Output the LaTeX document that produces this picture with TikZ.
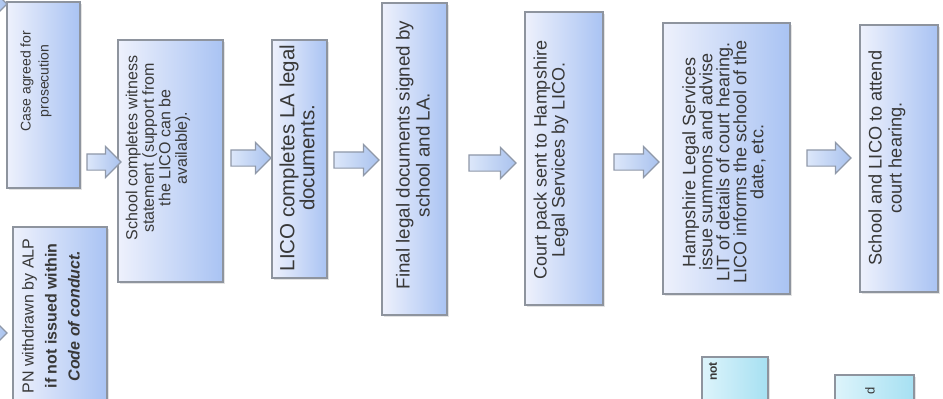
\documentclass[tikz,border=0pt]{standalone}
\usepackage{fontspec}
\setmainfont{Liberation Sans}
\usetikzlibrary{shapes.arrows,shadows}

\definecolor{boxL}{HTML}{EEF1FC}
\definecolor{boxR}{HTML}{A9C3F3}
\definecolor{cyanL}{HTML}{DDF4FB}
\definecolor{cyanR}{HTML}{A6E0F2}
\definecolor{edgegrey}{HTML}{8E949E}
\definecolor{arrL}{HTML}{DCE7FA}
\definecolor{arrR}{HTML}{A9C2EE}
\definecolor{arrEdge}{HTML}{8F98A8}
\definecolor{inkgrey}{HTML}{383838}

\tikzset{
  procbox/.style={rectangle, inner sep=0pt, draw=edgegrey, line width=1.3pt,
    left color=boxL, right color=boxR,
    drop shadow={shadow xshift=1.6pt, shadow yshift=-1.6pt, opacity=0.22}},
  notebox/.style={procbox, left color=cyanL, right color=cyanR},
  steptext/.style={rotate=90, align=center, inner sep=0pt, text=inkgrey},
  flowarrow/.style={single arrow, draw=arrEdge, line width=1.2pt,
    left color=arrL, right color=arrR, inner sep=7.5pt,
    single arrow head extend=7.5pt, single arrow head indent=0pt,
    minimum width=30pt}
}

\begin{document}
\begin{tikzpicture}[x=1pt,y=-1pt]
  \useasboundingbox (0,0) rectangle (943,399);
  \clip (0,0) rectangle (943,399);
  \fill[white] (0,0) rectangle (943,399);

  % process boxes
  \node[procbox, minimum width=73pt,  minimum height=186pt] (case)   at (43.5,95) {};
  \node[procbox, minimum width=94pt,  minimum height=185pt] (pn)     at (60,319.5) {};
  \node[procbox, minimum width=105pt, minimum height=242pt] (school) at (170.5,161) {};
  \node[procbox, minimum width=55pt,  minimum height=238pt] (lico)   at (299.5,159) {};
  \node[procbox, minimum width=65pt,  minimum height=312pt] (final)  at (414.5,159) {};
  \node[procbox, minimum width=78pt,  minimum height=293pt] (court)  at (564,158.5) {};
  \node[procbox, minimum width=127pt, minimum height=271pt] (hls)    at (726.5,158.5) {};
  \node[procbox, minimum width=78pt,  minimum height=267pt] (attend) at (899,158.5) {};
  \node[notebox, minimum width=66pt,  minimum height=73pt]  (noteA)  at (735,393.5) {};
  \node[notebox, minimum width=79pt,  minimum height=65pt]  (noteB)  at (874.5,407.5) {};

  % box texts
  \node[steptext, font=\fontsize{14}{18}\selectfont] (caseT) at (36,81)
    {Case agreed for\\prosecution};
  \node[steptext, font=\fontsize{16}{23}\selectfont] (pnT) at (51,316)
    {PN withdrawn by ALP\\\textbf{if not issued within}\\\textbf{\textit{Code of conduct.}}};
  \node[steptext, font=\fontsize{16}{16.5}\selectfont] (schoolT) at (158,148)
    {School completes witness\\statement (support from\\the LICO can be\\available).};
  \node[steptext, font=\fontsize{20.5}{20}\selectfont] (licoT) at (297,158)
    {LICO completes LA legal\\documents.};
  \node[steptext, font=\fontsize{18.8}{20}\selectfont] (finalT) at (413,155)
    {Final legal documents signed by\\school and LA.};
  \node[steptext, font=\fontsize{18}{18}\selectfont] (courtT) at (551,160)
    {Court pack sent to Hampshire\\Legal Services by LICO.};
  \node[steptext, font=\fontsize{18}{17}\selectfont] (hlsT) at (724,162)
    {Hampshire Legal Services\\issue summons and advise\\LIT of details of court hearing.\\LICO informs the school of the\\date, etc.};
  \node[steptext, font=\fontsize{18.2}{20}\selectfont] (attendT) at (887,158)
    {School and LICO to attend\\court hearing.};
  \node[steptext, anchor=east, font=\fontsize{12}{14}\bfseries] (noteAT) at (713,362) {not};
  \node[steptext, anchor=east, font=\fontsize{13}{15}\selectfont] (noteBT) at (870,387) {d};

  % block arrows between the steps
  \node[flowarrow, minimum height=34pt] (a1) at (100,162) {};
  \node[flowarrow, minimum height=40pt] (a2) at (247,158) {};
  \node[flowarrow, minimum height=45pt] (a3) at (352.5,160) {};
  \node[flowarrow, minimum height=47pt] (a4) at (488.5,163) {};
  \node[flowarrow, minimum height=45pt] (a5) at (632.5,162) {};
  \node[flowarrow, minimum height=44pt] (a6) at (825,158) {};
  % arrows entering from the left edge
  \node[flowarrow, minimum height=40pt] (a0top) at (-17,4) {};
  \node[flowarrow, minimum height=40pt] (a0bot) at (-17,333) {};
\end{tikzpicture}
\end{document}
